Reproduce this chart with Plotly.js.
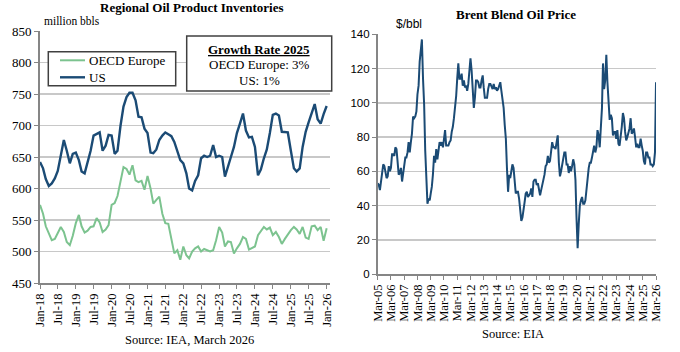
<!DOCTYPE html>
<html>
<head>
<meta charset="utf-8">
<script src="https://cdn.plot.ly/plotly-3.0.1.min.js"></script>
<style>
html,body{margin:0;padding:0;background:#fff;}
#chart{width:680px;height:352px;}
</style>
</head>
<body>
<div id="chart"></div>
<script>
// ---------- DATA ----------
// Left chart: monthly, Jan-18 .. Jan-26 (million bbls)
const invStart = [2018, 1];
const oecdEurope = [574,560,540,528,518,520,530,539,531,515,510,525,545,558,540,530,533,539,540,553,546,531,535,542,
  574,577,588,610,634,631,622,637,613,610,612,598,620,600,576,582,587,560,545,544,520,497,502,487,508,494,489,500,505,508,
  500,504,502,500,502,518,539,530,508,516,515,497,505,512,523,520,503,505,508,526,533,539,535,538,526,531,523,512,520,527,
  534,539,535,528,539,522,520,540,541,534,539,517,537];
const usInv = [642,632,615,604,608,616,628,650,677,660,640,655,657,645,627,624,640,660,684,686,689,660,668,685,
  684,655,660,700,730,745,752,752,740,714,713,695,688,657,656,662,677,684,689,686,683,674,660,645,640,624,600,597,612,621,
  648,652,650,652,669,650,652,650,619,637,650,666,688,703,719,692,681,682,666,621,630,648,662,688,717,719,716,690,689,689,
  660,632,627,632,666,690,705,720,734,710,703,718,731];
const seriesNames = ["OECD Europe", "US"];
const growthTitle = "Growth Rate 2025";
const growthLines = ["OECD Europe: 3%", "US: 1%"];

// Right chart: monthly Brent, Mar-05 .. Mar-26 ($/bbl)
const brentStart = [2005, 3];
const brent = [
  53,52,49,55,58,64,63,58,56,57,                 // 2005 Mar-Dec
  63,60,62,70,70,69,74,73,62,58,59,62,           // 2006
  54,58,62,68,68,71,77,71,77,82,92,91,           // 2007
  92,95,105,110,124,133,137,114,99,72,53,41,     // 2008
  44,43,47,51,58,69,65,73,67,73,77,75,           // 2009
  77,74,79,84,75,75,75,77,78,83,86,91,           // 2010
  96,104,114,123,114,114,117,110,113,109,110,107,// 2011
  111,119,126,119,110,97,103,113,113,112,109,109,// 2012
  113,116,109,103,103,103,108,111,111,109,108,111,// 2013
  108,109,107,108,110,112,107,102,97,87,79,62,   // 2014
  48,58,56,60,64,62,56,47,48,48,44,38,           // 2015
  31,33,39,42,47,48,45,46,47,50,45,54,           // 2016
  55,55,52,53,50,46,49,52,56,58,63,64,           // 2017
  69,65,66,72,77,74,74,73,79,81,65,57,           // 2018
  60,64,66,71,71,64,64,59,63,60,63,67,           // 2019
  64,55,33,15,29,40,43,45,41,41,43,50,           // 2020
  55,62,65,65,68,73,75,71,74,84,81,74,           // 2021
  86,97,123,108,113,128,112,100,90,93,91,81,     // 2022
  83,83,79,84,76,75,80,86,94,91,83,78,           // 2023
  80,83,85,91,82,83,85,80,74,76,74,74,           // 2024
  79,75,72,66,64,71,71,68,68,64,64,63,           // 2025
  64,71,112                                      // 2026 Jan-Mar
];

const leftTitle = "Regional Oil Product Inventories";
const rightTitle = "Brent Blend Oil Price";
const leftUnit = "million bbls";
const rightUnit = "$/bbl";
const leftSource = "Source: IEA, March 2026";
const rightSource = "Source: EIA";

// ---------- HELPERS ----------
function monthDates(start, n) {
  const out = [];
  let y = start[0], m = start[1];
  for (let i = 0; i < n; i++) {
    out.push(y + "-" + String(m).padStart(2, "0") + "-01");
    m++; if (m > 12) { m = 1; y++; }
  }
  return out;
}
const W = 680, H = 352;
const px = x => x / W;
const py = y => 1 - y / H;

const SERIF = "Liberation Serif, Times New Roman, serif";
const SANS = "Liberation Sans, Arial, sans-serif";
const NAVY = "#1b4b75";
const GREEN = "#7cc38f";
const AX = "#868686";
const GRID = "#c8c8c8";
const BOX = "#404040";

const invDates = monthDates(invStart, oecdEurope.length);
const brentDates = monthDates(brentStart, brent.length);
const seriesColors = [GREEN, NAVY];

const traces = [
  {x: invDates, y: oecdEurope, name: seriesNames[0], type: "scatter", mode: "lines",
   line: {color: GREEN, width: 2}, xaxis: "x", yaxis: "y"},
  {x: invDates, y: usInv, name: seriesNames[1], type: "scatter", mode: "lines",
   line: {color: NAVY, width: 2.4}, xaxis: "x", yaxis: "y"},
  {x: brentDates, y: brent, name: "Brent", type: "scatter", mode: "lines",
   line: {color: NAVY, width: 2}, xaxis: "x2", yaxis: "y2"}
];

const xCommon = {
  type: "date", tickangle: -90, ticks: "outside", ticklen: 4, tickcolor: AX, tickwidth: 1,
  showline: true, linecolor: AX, linewidth: 1.5, showgrid: false, zeroline: false,
  tickfont: {family: SERIF, size: 12.5, color: "#000"}, tickformat: "%b-%y", fixedrange: true
};
const yCommon = {
  ticks: "outside", ticklen: 4, tickcolor: AX, showline: true, linecolor: AX, linewidth: 1.8,
  showgrid: true, gridcolor: GRID, gridwidth: 1.5, zeroline: false, fixedrange: true
};

// legend (drawn as box + sample lines + labels, like the original chart's legend)
const legBox = {x0: 48.3, x1: 175.7, y0: 51.7, y1: 85.7};
const legRows = [60.3, 77.3];
const shapes = [
  {type: "rect", xref: "paper", yref: "paper", x0: px(legBox.x0), x1: px(legBox.x1), y0: py(legBox.y1), y1: py(legBox.y0),
   line: {color: BOX, width: 1.5}, fillcolor: "#fff", layer: "above"},
  {type: "rect", xref: "paper", yref: "paper", x0: px(186.7), x1: px(331.7), y0: py(91), y1: py(36),
   line: {color: BOX, width: 1.5}, fillcolor: "#fff", layer: "above"}
];
const annotations = [];
seriesNames.forEach((nm, i) => {
  shapes.push({type: "line", xref: "paper", yref: "paper", x0: px(60), x1: px(85), y0: py(legRows[i]), y1: py(legRows[i]),
    line: {color: seriesColors[i], width: i === 1 ? 2.4 : 2}, layer: "above"});
  annotations.push({text: nm, xref: "paper", yref: "paper", x: px(86.5), y: py(legRows[i]), xanchor: "left", yanchor: "middle",
    showarrow: false, font: {family: SERIF, size: 13, color: "#000"}});
});
const growthRows = [49.3, 64.5, 80];
[("<b><u>" + growthTitle + "</u></b>")].concat(growthLines).forEach((t, i) => {
  annotations.push({text: t, xref: "paper", yref: "paper", x: px(259.2), y: py(growthRows[i]), xanchor: "center", yanchor: "middle",
    showarrow: false, font: {family: SERIF, size: 13, color: "#000"}});
});
annotations.push(
  {text: "<b>" + leftTitle + "</b>", xref: "paper", yref: "paper", x: px(191.5), y: py(8),
   xanchor: "center", yanchor: "middle", showarrow: false, font: {family: SERIF, size: 13, color: "#000"}},
  {text: "<b>" + rightTitle + "</b>", xref: "paper", yref: "paper", x: px(516), y: py(14),
   xanchor: "center", yanchor: "middle", showarrow: false, font: {family: SERIF, size: 13, color: "#000"}},
  {text: leftUnit, xref: "paper", yref: "paper", x: px(42), y: py(21),
   xanchor: "left", yanchor: "middle", showarrow: false, font: {family: SERIF, size: 11.5, color: "#000"}},
  {text: rightUnit, xref: "paper", yref: "paper", x: px(394), y: py(24),
   xanchor: "left", yanchor: "middle", showarrow: false, font: {family: SANS, size: 12, color: "#000"}},
  {text: leftSource, xref: "paper", yref: "paper", x: px(189.7), y: py(340),
   xanchor: "center", yanchor: "middle", showarrow: false, font: {family: SERIF, size: 12.5, color: "#000"}},
  {text: rightSource, xref: "paper", yref: "paper", x: px(512.5), y: py(334),
   xanchor: "center", yanchor: "middle", showarrow: false, font: {family: SERIF, size: 12.5, color: "#000"}}
);

const layout = {
  width: W, height: H,
  margin: {l: 0, r: 0, t: 0, b: 0},
  paper_bgcolor: "#fff", plot_bgcolor: "#fff",
  showlegend: false,
  xaxis: Object.assign({}, xCommon, {
    domain: [px(40), px(330)], anchor: "y",
    range: ["2018-01-01", "2026-02-04"], tick0: "2018-01-01", dtick: "M6"
  }),
  yaxis: Object.assign({}, yCommon, {
    domain: [py(283), py(31)], anchor: "x", range: [450, 850], dtick: 50,
    tickfont: {family: SERIF, size: 13, color: "#000"}
  }),
  xaxis2: Object.assign({}, xCommon, {
    domain: [px(377.7), px(656)], anchor: "y2",
    range: ["2005-03-01", "2026-03-01"], tick0: "2005-03-01", dtick: "M12"
  }),
  yaxis2: Object.assign({}, yCommon, {
    domain: [py(274), py(34.3)], anchor: "x2", range: [0, 140], dtick: 20,
    tickfont: {family: SANS, size: 11.5, color: "#000"}
  }),
  shapes: shapes,
  annotations: annotations
};

Plotly.newPlot("chart", traces, layout, {displayModeBar: false, staticPlot: true});
</script>
</body>
</html>
